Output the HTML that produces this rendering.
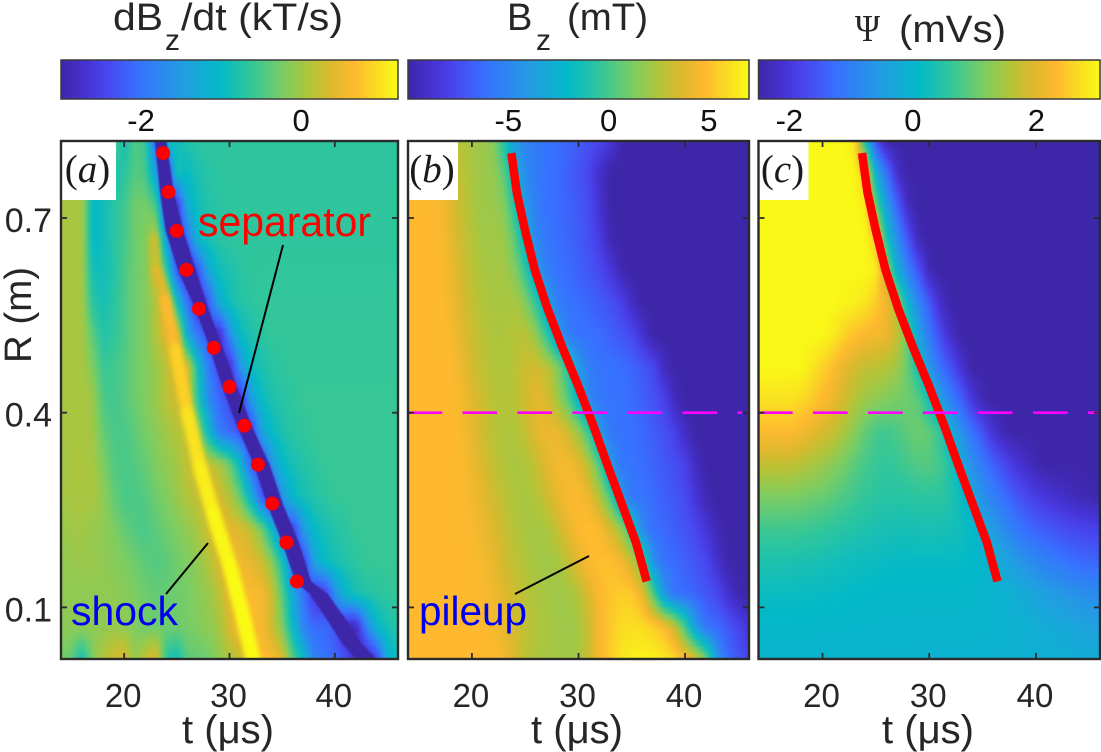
<!DOCTYPE html>
<html lang="en">
<head>
<meta charset="utf-8">
<title>Separator and pileup heatmaps</title>
<style>
html,body{margin:0;padding:0;background:#fff;}
svg{display:block;font-family:"Liberation Sans",Arial,sans-serif;}
</style>
</head>
<body>
<svg id="chart" xmlns="http://www.w3.org/2000/svg" width="1101" height="752" viewBox="0 0 1101 752">
  <defs>
    <filter id="soft" x="-5%" y="-5%" width="110%" height="110%" color-interpolation-filters="sRGB"><feGaussianBlur stdDeviation="1.6"/></filter>
    <filter id="softBand" x="-20%" y="-5%" width="140%" height="110%" color-interpolation-filters="sRGB"><feGaussianBlur stdDeviation="0.9"/></filter>
    <filter id="softRidge" x="-20%" y="-5%" width="140%" height="110%" color-interpolation-filters="sRGB"><feGaussianBlur stdDeviation="2.4"/></filter>
  </defs>
  <rect width="1101" height="752" fill="#fff"/>
  <g id="layers"></g>

  <g fill="#262626" font-size="38">
    <text x="113" y="30" textLength="50" lengthAdjust="spacingAndGlyphs">dB</text>
    <text x="165" y="50" font-size="30">z</text>
    <text x="181" y="30" textLength="162" lengthAdjust="spacingAndGlyphs">/dt (kT/s)</text>
    <text x="507" y="30">B</text>
    <text x="536" y="50" font-size="30">z</text>
    <text x="567" y="30" textLength="81" lengthAdjust="spacingAndGlyphs">(mT)</text>
    <text x="855" y="41" font-family="'Liberation Serif',serif" textLength="25" lengthAdjust="spacingAndGlyphs">Ψ</text>
    <text x="899" y="42" textLength="107" lengthAdjust="spacingAndGlyphs">(mVs)</text>
  </g>

  <g fill="#262626" font-size="40">
    <text x="182" y="743" textLength="92" lengthAdjust="spacingAndGlyphs">t (μs)</text>
    <text x="531" y="743" textLength="92" lengthAdjust="spacingAndGlyphs">t (μs)</text>
    <text x="882" y="743" textLength="92" lengthAdjust="spacingAndGlyphs">t (μs)</text>
    <text transform="translate(31,363) rotate(-90)" font-size="38" textLength="96" lengthAdjust="spacingAndGlyphs">R (m)</text>
  </g>
</svg>

<script>
// ---- axis categories ----
var tNodes = [14,15,16,17,18,19,20,21,22,23,24,25,26,27,28,29,30,31,32,33,34,35,36,37,38,39,40,41,42,43,44,45,46];
var rNodes = [0.82,0.77,0.72,0.67,0.62,0.57,0.52,0.47,0.42,0.37,0.32,0.27,0.22,0.17,0.12,0.07,0.02];
var tTicks = [20,30,40];
var rTicks = [0.1,0.4,0.7];
var rTickLabels = ["0.1","0.4","0.7"];
var climA = [-3,1.21];
var climB = [-10,7];
var climC = [-2.5,3.03];
var cbarTicksA = [-2,0];
var cbarTicksB = [-5,0,5];
var cbarTicksC = [-2,0,2];

// ---- dBz/dt (kT/s), one row per rNodes entry, one value per tNodes entry ----
var dBdtValues = [
[-.4,-.4,-.4,-.4,-.4,-.4,-.9,-.45,-.6,-2.2,-.8,-.95,-.75,-.68,-.66,-.66,-.66,-.66,-.66,-.66,-.66,-.66,-.66,-.66,-.66,-.66,-.66,-.66,-.66,-.66,-.66,-.66,-.66],
[.05,.05,.05,-1,-.95,-.8,-.7,-.45,-.5,-1.4,-2.8,-.8,-1,-.8,-.72,-.68,-.66,-.66,-.66,-.66,-.66,-.66,-.66,-.66,-.66,-.66,-.66,-.66,-.66,-.66,-.66,-.66,-.66],
[.05,.05,.05,-1.05,-.9,-.7,-.55,-.3,-.25,-.5,-2.5,-2.7,-1.2,-.9,-.75,-.7,-.65,-.65,-.65,-.65,-.65,-.65,-.65,-.65,-.65,-.65,-.65,-.65,-.65,-.65,-.65,-.65,-.65],
[.05,.05,.05,-1.05,-.9,-.7,-.55,-.3,-.2,.2,-1.5,-2.8,-2,-1,-.8,-.7,-.66,-.65,-.65,-.65,-.65,-.65,-.65,-.65,-.65,-.65,-.65,-.65,-.65,-.65,-.65,-.65,-.65],
[.05,.05,.03,-.9,-.9,-.75,-.5,-.3,-.2,.35,-.6,-2.3,-3,-2.3,-1.3,-.9,-.8,-.7,-.64,-.64,-.64,-.64,-.64,-.64,-.64,-.64,-.64,-.64,-.64,-.64,-.64,-.64,-.64],
[.05,.05,.03,-.7,-.85,-.7,-.5,-.3,-.2,.1,.6,-.9,-2,-2.8,-2.3,-1.2,-.9,-.75,-.68,-.63,-.63,-.63,-.63,-.63,-.63,-.63,-.63,-.63,-.63,-.63,-.63,-.63,-.63],
[.02,.05,.05,-.4,-.75,-.65,-.5,-.3,-.2,.1,.4,.5,-1.3,-2,-2.3,-2.9,-1.7,-1,-.8,-.7,-.62,-.62,-.62,-.62,-.62,-.62,-.62,-.62,-.62,-.62,-.62,-.62,-.62],
[0,.05,.05,-.2,-.6,-.55,-.45,-.3,-.2,-.05,.15,.5,.4,-.9,-1.9,-2.4,-2.8,-1.6,-1,-.8,-.72,-.66,-.62,-.62,-.62,-.62,-.62,-.62,-.62,-.62,-.62,-.62,-.62],
[0,.05,.05,0,-.5,-.55,-.45,-.3,-.2,-.05,.15,.3,.3,-.7,-1.7,-2.1,-2.4,-2.8,-1.5,-1,-.8,-.72,-.66,-.6,-.6,-.6,-.6,-.6,-.6,-.6,-.6,-.6,-.6],
[0,.05,.05,.02,-.35,-.5,-.5,-.4,-.25,-.15,0,.1,.25,-.05,-1,-1.9,-2.1,-2.3,-2.7,-1.4,-1,-.8,-.7,-.65,-.6,-.6,-.6,-.6,-.6,-.6,-.6,-.6,-.6],
[0,.08,.05,.05,-.2,-.45,-.5,-.45,-.35,-.2,-.1,0,.2,.4,.25,.1,-.3,-1,-2.1,-2.6,-1.6,-1.05,-.85,-.75,-.68,-.6,-.6,-.6,-.6,-.6,-.6,-.6,-.6],
[0,.05,.05,.05,-.1,-.35,-.5,-.5,-.45,-.3,-.2,-.05,.1,.2,.4,.35,.1,-.3,-1.1,-2.2,-2.6,-1.6,-1.05,-.85,-.75,-.68,-.6,-.6,-.6,-.6,-.6,-.6,-.6],
[-.05,0,0,-.05,-.1,-.2,-.35,-.45,-.5,-.4,-.3,-.2,-.1,.05,.3,.45,.45,.4,.2,-.2,-1,-2,-2.6,-1.5,-1,-.85,-.75,-.68,-.6,-.6,-.6,-.6,-.6],
[-.1,-.05,-.05,-.05,-.1,-.15,-.2,-.3,-.4,-.45,-.4,-.3,-.2,-.1,.1,.35,.55,.55,.45,.3,-.1,-.8,-2,-2.6,-1.4,-1,-.85,-.75,-.68,-.6,-.6,-.6,-.6],
[-.1,-.1,-.1,-.1,-.1,-.1,-.15,-.2,-.3,-.35,-.35,-.3,-.25,-.15,-.05,.15,.45,.6,.65,.6,.3,-.4,-1.3,-2,-2.6,-2.7,-1.7,-1.05,-.85,-.75,-.7,-.65,-.6],
[-.15,-.1,-.1,-.1,-.1,-.05,-.1,-.2,-.3,-.3,-.3,-.3,-.25,-.2,-.1,0,.35,.6,.65,.6,.3,-.2,-1,-1.8,-2.1,-2.1,-2.3,-2.9,-2.9,-1.8,-1.05,-.85,-.7],
[-.2,-.4,-.9,-.2,.1,.3,.4,-.1,.2,.5,-.7,-.9,-.4,-.35,-.3,-.1,.05,.2,.6,.7,.65,.4,-.4,-1,-1.8,-2,-2.1,-2.3,-2.8,-2.9,-2.5,-1.2,-.85]
];

// ---- Bz (mT) ----
var bzValues = [
[4.8,4.8,4.8,4.3,3.3,2.6,2.2,2,1.6,-1,-4,-5,-5.6,-6,-6.2,-6.5,-6.9,-7.3,-7.7,-8.5,-9.8,-10,-10,-10,-10,-10,-10,-10,-10,-10,-10,-10,-10],
[4.8,4.8,4.8,4.5,3.6,2.8,2.3,2,1.8,.5,-2.5,-4.8,-5.6,-6,-6.3,-6.7,-7.2,-7.8,-9,-10,-10,-10,-10,-10,-10,-10,-10,-10,-10,-10,-10,-10,-10],
[4.8,4.8,4.8,4.6,3.8,3,2.4,2,2,1.5,-1,-4,-5.5,-6,-6.3,-6.6,-7,-7.5,-8.8,-10,-10,-10,-10,-10,-10,-10,-10,-10,-10,-10,-10,-10,-10],
[4.8,4.8,4.8,4.7,4,3.2,2.6,2.1,2.1,2,.5,-2.5,-5,-5.9,-6.2,-6.5,-6.9,-7.4,-8.3,-9.7,-10,-10,-10,-10,-10,-10,-10,-10,-10,-10,-10,-10,-10],
[4.8,4.8,4.8,4.8,4.2,3.4,2.8,2.3,2.2,2.2,1.5,-.5,-3.5,-5.5,-6,-6.3,-6.7,-7.1,-7.6,-8.5,-9.7,-10,-10,-10,-10,-10,-10,-10,-10,-10,-10,-10,-10],
[4.8,4.8,4.8,4.8,4.4,3.6,3,2.5,2.3,2.3,2.4,1.5,-.5,-3.5,-5.5,-6,-6.2,-6.5,-6.9,-7.3,-7.9,-9.2,-10,-10,-10,-10,-10,-10,-10,-10,-10,-10,-10],
[4.8,4.8,4.8,4.8,4.6,3.9,3.2,2.7,2.4,2.4,2.6,2.8,1.8,-.5,-3.5,-5.5,-6,-6.1,-6.3,-6.7,-7.1,-7.6,-8.8,-10,-10,-10,-10,-10,-10,-10,-10,-10,-10],
[4.8,4.8,4.8,4.8,4.8,4.2,3.4,2.9,2.5,2.4,2.7,3.2,3.4,2.9,1.5,-1,-4,-5.5,-6,-6,-6.2,-6.5,-7,-7.6,-9.3,-10,-10,-10,-10,-10,-10,-10,-10],
[4.8,4.8,4.8,4.8,4.8,4.5,3.8,3.2,2.7,2.5,2.7,3.3,3.9,3.6,2.2,.5,-2.5,-5,-5.8,-6,-6,-6.3,-6.7,-7.2,-7.8,-9.4,-10,-10,-10,-10,-10,-10,-10],
[4.8,4.8,4.8,4.8,4.8,4.6,4,3.3,2.7,2.4,2.5,3,3.8,4.2,4.2,3.3,2,-.5,-4,-5.8,-6,-6.1,-6.4,-6.8,-7.3,-7.9,-9.2,-10,-10,-10,-10,-10,-10],
[4.8,4.8,4.8,4.8,4.8,4.7,4.2,3.6,3,2.5,2.3,2.4,3,3.8,4.4,4.5,4,2.6,0,-4,-5.8,-6,-6.2,-6.6,-7,-7.4,-7.9,-9.3,-10,-10,-10,-10,-10],
[4.8,4.8,4.8,4.8,4.8,4.8,4.4,3.9,3.3,2.8,2.4,2.3,2.5,3.2,4,4.6,4.7,4.2,2.6,0,-4,-5.8,-6,-6.3,-6.7,-7.1,-7.5,-8.6,-9.7,-10,-10,-10,-10],
[4.8,4.8,4.8,4.8,4.8,4.8,4.6,4.2,3.7,3.1,2.6,2.3,2.2,2.3,3,4,4.7,5,4.7,3.6,2,-1,-5,-6.1,-6.4,-6.8,-7.2,-7.7,-8.6,-9.6,-10,-10,-10],
[4.8,4.8,4.8,4.8,4.8,4.8,4.7,4.5,4,3.4,2.9,2.5,2.2,2.1,2.2,2.9,3.9,4.7,5,5,4.5,3.2,.5,-4.5,-6,-6.3,-6.7,-7.2,-7.7,-8.9,-9.9,-10,-10],
[4.8,4.8,4.8,4.8,4.8,4.8,4.8,4.6,4.3,3.8,3.2,2.7,2.4,2.2,2.1,2.1,2.6,3.7,4.7,5.2,5.5,5.4,4.2,.5,-4,-6,-6.2,-6.6,-7.1,-7.6,-8.8,-9.8,-10],
[4.8,4.8,4.8,4.8,4.8,4.8,4.8,4.8,4.5,4.1,3.4,2.9,2.5,2.3,2.1,2,2.2,3.2,4.5,5.3,5.9,6,6,5.6,4.8,3.2,0,-4,-6,-6.4,-7,-7.7,-8.8],
[4.8,4.8,4.8,4.8,4.8,4.8,4.8,4.8,4.8,4.4,3.6,2.8,2.4,2.3,2.2,2.1,2.2,3.2,4.6,5.4,6.3,6.6,6.7,6.7,6.5,5.9,4.9,3.6,1,-4,-6.2,-7.2,-7.7]
];

// ---- Psi (mVs) ----
var psiValues = [
[3,3,3,3,3,3,3,3,3,2.8,.2,-1.7,-2.5,-2.5,-2.5,-2.5,-2.5,-2.5,-2.5,-2.5,-2.5,-2.5,-2.5,-2.5,-2.5,-2.5,-2.5,-2.5,-2.5,-2.5,-2.5,-2.5,-2.5],
[3,3,3,3,3,3,3,3,3,3,2.4,-.2,-1.2,-2.2,-2.5,-2.5,-2.5,-2.5,-2.5,-2.5,-2.5,-2.5,-2.5,-2.5,-2.5,-2.5,-2.5,-2.5,-2.5,-2.5,-2.5,-2.5,-2.5],
[3,3,3,3,3,3,3,3,3,3,2.9,1,-.5,-1.4,-2.3,-2.5,-2.5,-2.5,-2.5,-2.5,-2.5,-2.5,-2.5,-2.5,-2.5,-2.5,-2.5,-2.5,-2.5,-2.5,-2.5,-2.5,-2.5],
[3,3,3,3,3,3,3,3,3,3,3,2.5,.3,-.8,-1.6,-2.4,-2.5,-2.5,-2.5,-2.5,-2.5,-2.5,-2.5,-2.5,-2.5,-2.5,-2.5,-2.5,-2.5,-2.5,-2.5,-2.5,-2.5],
[3,3,3,3,3,3,3,3,3,3,3,2.9,1.5,-.2,-1,-1.6,-2.4,-2.5,-2.5,-2.5,-2.5,-2.5,-2.5,-2.5,-2.5,-2.5,-2.5,-2.5,-2.5,-2.5,-2.5,-2.5,-2.5],
[3,3,3,3,3,3,3,3,2.95,2.9,2.8,2.5,2.2,1.4,-.1,-.9,-1.5,-2.2,-2.5,-2.5,-2.5,-2.5,-2.5,-2.5,-2.5,-2.5,-2.5,-2.5,-2.5,-2.5,-2.5,-2.5,-2.5],
[3,3,3,3,3,3,3,2.85,2.6,2.4,2.25,2.2,2.1,1.8,.9,-.4,-1.1,-1.7,-2.2,-2.5,-2.5,-2.5,-2.5,-2.5,-2.5,-2.5,-2.5,-2.5,-2.5,-2.5,-2.5,-2.5,-2.5],
[3,3,3,3,3,2.8,2.6,2.35,2.05,1.85,1.7,1.65,1.6,1.4,1,.3,-.6,-1.2,-1.6,-2.1,-2.5,-2.5,-2.5,-2.5,-2.5,-2.5,-2.5,-2.5,-2.5,-2.5,-2.5,-2.5,-2.5],
[2.75,2.75,2.75,2.75,2.65,2.5,2.3,2.1,1.85,1.6,1.4,1.3,1.2,1.1,1.05,.9,.3,-.4,-1,-1.4,-2,-2.4,-2.5,-2.5,-2.5,-2.5,-2.5,-2.5,-2.5,-2.5,-2.5,-2.5,-2.5],
[2.3,2.3,2.3,2.3,2.2,2.05,1.9,1.75,1.5,1.25,.95,.75,.7,.8,.95,1.05,.95,.6,-.1,-.7,-1.2,-1.6,-2.1,-2.4,-2.5,-2.5,-2.5,-2.5,-2.5,-2.5,-2.5,-2.5,-2.5],
[1.7,1.7,1.7,1.7,1.6,1.5,1.4,1.25,1.1,.9,.75,.65,.6,.65,.75,.85,.85,.75,.4,-.2,-.7,-1.1,-1.4,-1.7,-2,-2.2,-2.4,-2.5,-2.5,-2.5,-2.5,-2.5,-2.5],
[1.15,1.15,1.15,1.15,1.1,1.05,1,.9,.8,.7,.6,.55,.5,.5,.5,.55,.55,.55,.45,.2,-.3,-.7,-1,-1.25,-1.5,-1.7,-1.9,-2,-2.15,-2.25,-2.35,-2.4,-2.5],
[.7,.7,.7,.7,.68,.65,.6,.55,.5,.45,.4,.35,.33,.32,.32,.33,.33,.33,.3,.25,.1,-.2,-.5,-.8,-1.05,-1.25,-1.4,-1.5,-1.6,-1.7,-1.75,-1.8,-1.85],
[.38,.38,.38,.38,.36,.34,.32,.28,.25,.22,.2,.18,.15,.14,.14,.14,.14,.14,.14,.13,.1,.05,-.1,-.3,-.5,-.7,-.85,-1,-1.1,-1.2,-1.3,-1.35,-1.4],
[.18,.18,.18,.18,.17,.16,.15,.14,.12,.1,.09,.08,.07,.06,.05,.05,.05,.05,.05,.05,.03,0,-.03,-.08,-.15,-.25,-.35,-.45,-.55,-.62,-.7,-.75,-.8],
[.05,.05,.05,.05,.05,.04,.04,.03,.03,.02,.02,.01,.01,.01,0,0,0,0,0,0,-.01,-.02,-.03,-.05,-.08,-.1,-.15,-.2,-.25,-.3,-.35,-.4,-.45],
[-.02,-.02,-.02,-.02,-.02,-.03,-.03,-.03,-.03,-.04,-.04,-.04,-.05,-.05,-.05,-.05,-.06,-.06,-.06,-.06,-.07,-.07,-.08,-.09,-.1,-.11,-.12,-.13,-.14,-.15,-.16,-.18,-.2]
];

// ---- separator (red dots in a, red line in b and c) ----
var separatorR = [0.8,0.74,0.68,0.62,0.56,0.5,0.44,0.38,0.32,0.26,0.2,0.14];
var separatorT = [23.7,24.2,25,25.9,27.1,28.5,30,31.4,32.7,34.05,35.4,36.4];

// ---- dark current-sheet band in panel a (centre and width in microseconds) ----
var bandR = [0.82,0.74,0.68,0.62,0.56,0.5,0.44,0.38,0.32,0.26,0.2,0.14,0.12,0.085,0.045,0.02];
var bandT = [23.45,24.05,24.78,25.95,27.38,28.74,30,31.4,33.07,34.3,35.8,37,38.5,40,41.6,43];
var bandW = [1.1,1.3,1.7,1.7,1.25,1.25,1.4,1.4,1.5,1.5,1.6,1.5,1.7,1.8,1.8,1.9];

// ---- shock ridge in panel a ----
var shockR = [0.67,0.62,0.574,0.497,0.4,0.316,0.245,0.162,0.085,0.02];
var shockT = [22.8,23.1,23.9,24.85,26,27.2,28.45,30.07,31.3,32.25];
var shockAmp = [0.15,0.3,0.5,0.75,0.95,1.05,1.15,1.21,1.21,1.21];

// ---- dashed cut at R = 0.4 ----
var cutR = [0.4];

// ---- colour map (position, r, g, b) ----
var cmapStops = [
[0,62,38,168],[.08,70,52,214],[.14,72,72,240],[.23,55,114,255],[.37,32,160,224],[.47,3,185,200],
[.56,48,198,156],[.66,124,205,98],[.74,180,196,56],[.8,220,184,45],[.87,254,185,47],[.94,250,221,34],[1,249,251,21]
];

var svgNS = "http://www.w3.org/2000/svg";
var layers = document.getElementById("layers");
var defs = document.querySelector("#chart defs");
var plotTop = 141, plotBottom = 659, cbarTop = 60, cbarBottom = 99;

var panels = [
  {key:"a", x0:61, x1:398, grid:dBdtValues, clim:climA, ticks:cbarTicksA, tickLabels:["-2","0"], label:"a", boxW:55},
  {key:"b", x0:408, x1:749, grid:bzValues, clim:climB, ticks:cbarTicksB, tickLabels:["-5","0","5"], label:"b", boxW:50},
  {key:"c", x0:758.5, x1:1100, grid:psiValues, clim:climC, ticks:cbarTicksC, tickLabels:["-2","0","2"], label:"c", boxW:50}
];

function xScale(p, t){ return p.x0 + (t - 14) * (p.x1 - p.x0) / 32; }
function yScale(r){ return 218 + (0.7 - r) * 649; }
function cbarScale(p, v){ return p.x0 + (v - p.clim[0]) * (p.x1 - p.x0) / (p.clim[1] - p.clim[0]); }
function colorAt(n){
  n = Math.max(0, Math.min(1, n));
  for (var i = 1; i < cmapStops.length; i++) {
    if (n <= cmapStops[i][0]) {
      var a = cmapStops[i-1], b = cmapStops[i], f = (n - a[0]) / (b[0] - a[0]);
      return "rgb(" + Math.round(a[1]+(b[1]-a[1])*f) + "," + Math.round(a[2]+(b[2]-a[2])*f) + "," + Math.round(a[3]+(b[3]-a[3])*f) + ")";
    }
  }
  return "rgb(249,251,21)";
}
function valueColor(p, v){ return colorAt((v - p.clim[0]) / (p.clim[1] - p.clim[0])); }
function mk(tag, attrs, parent){
  var el = document.createElementNS(svgNS, tag);
  for (var k in attrs) el.setAttribute(k, attrs[k]);
  if (parent) parent.appendChild(el);
  return el;
}

function drawHeat(p, parent){
  var subX = 3, subY = 5;
  for (var i = 0; i < rNodes.length - 1; i++) {
    var y0 = yScale(rNodes[i]), y1 = yScale(rNodes[i+1]);
    for (var j = 0; j < tNodes.length - 1; j++) {
      var x0 = xScale(p, tNodes[j]), x1 = xScale(p, tNodes[j+1]);
      var v00 = p.grid[i][j], v01 = p.grid[i][j+1], v10 = p.grid[i+1][j], v11 = p.grid[i+1][j+1];
      for (var a = 0; a < subY; a++) {
        var fy = (a + .5) / subY;
        for (var b = 0; b < subX; b++) {
          var fx = (b + .5) / subX;
          var v = (v00*(1-fx) + v01*fx)*(1-fy) + (v10*(1-fx) + v11*fx)*fy;
          var cx0 = x0 + (x1-x0)*b/subX, cy0 = y0 + (y1-y0)*a/subY;
          var cw = (x1-x0)/subX + .6, ch = (y1-y0)/subY + .6;
          if (j === 0 && b === 0) { cx0 -= 8; cw += 8; }
          if (j === tNodes.length-2 && b === subX-1) cw += 8;
          if (i === 0 && a === 0) { cy0 -= 8; ch += 8; }
          if (i === rNodes.length-2 && a === subY-1) ch += 8;
          var cell = mk("rect", {x:cx0.toFixed(2), y:cy0.toFixed(2), width:cw.toFixed(2), height:ch.toFixed(2), fill:valueColor(p, v)}, parent);
          
          
        }
      }
    }
  }
}

panels.forEach(function(p){
  var w = p.x1 - p.x0;

  // colorbar
  var grad = mk("linearGradient", {id:"cbar-grad-" + p.key, x1:"0", x2:"1", y1:"0", y2:"0"}, defs);
  cmapStops.forEach(function(s){
    mk("stop", {offset:s[0], "stop-color":colorAt(s[0])}, grad);
  });
  var bar = mk("rect", {x:p.x0, y:cbarTop, width:w, height:cbarBottom-cbarTop, fill:"url(#cbar-grad-" + p.key + ")", stroke:"#3a3a3a", "stroke-width":1.5}, layers);
  
  
  p.ticks.forEach(function(v, i){
    var lab = mk("text", {x:cbarScale(p, v), y:131, "text-anchor":"middle", "font-size":31, fill:"#111"}, layers);
    lab.textContent = p.tickLabels[i];
    
    
  });

  // heatmap, clipped to the plot box
  var clip = mk("clipPath", {id:"clip-" + p.key}, defs);
  mk("rect", {x:p.x0, y:plotTop, width:w, height:plotBottom-plotTop}, clip);
  var panel = mk("g", {"clip-path":"url(#clip-" + p.key + ")"}, layers);
  
  
  var heat = mk("g", {filter:"url(#soft)"}, panel);
  
  
  drawHeat(p, heat);

  if (p.key === "a") {
    // shock ridge
    var ridge = mk("g", {filter:"url(#softRidge)"}, panel);
    
    
    for (var s = 0; s < shockR.length - 1; s++) {
      var amp = (shockAmp[s] + shockAmp[s+1]) / 2;
      var seg = mk("line", {x1:xScale(p, shockT[s]), y1:yScale(shockR[s]), x2:xScale(p, shockT[s+1]), y2:yScale(shockR[s+1]), stroke:valueColor(p, amp), "stroke-width":6 + 9*amp/1.21, "stroke-linecap":"round"}, ridge);
      
      
    }
    // dark band following the current sheet
    var left = [], right = [];
    bandR.forEach(function(r, i){
      left.push(xScale(p, bandT[i] - bandW[i]/2).toFixed(1) + "," + yScale(r).toFixed(1));
      right.unshift(xScale(p, bandT[i] + bandW[i]/2).toFixed(1) + "," + yScale(r).toFixed(1));
    });
    var band = mk("polygon", {points:left.concat(right).join(" "), fill:"rgb(62,38,168)", filter:"url(#softBand)"}, panel);
    
    
  } else {
    // separator line
    var pts = separatorR.map(function(r, i){ return xScale(p, separatorT[i]).toFixed(1) + "," + yScale(r).toFixed(1); });
    var sep = mk("polyline", {points:pts.join(" "), fill:"none", stroke:"#ff0000", "stroke-width":8.5}, panel);
    
    
    // dashed magenta cut
    var cut = mk("line", {x1:p.x0 - 0.5, x2:p.key === "b" ? 742 : p.x1, y1:yScale(cutR[0]), y2:yScale(cutR[0]), stroke:"#ff00ff", "stroke-width":2.6, "stroke-dasharray":"34.7 20.3"}, panel);
    
    
  }

  // white label patch
  var patch = mk("rect", {x:p.x0, y:plotTop, width:p.boxW, height:59, fill:"#fff"}, layers);
  
  
  var plabel = mk("text", {x:p.x0 + p.boxW/2 - 1, y:182, "text-anchor":"middle", "font-family":"'Liberation Serif',serif", "font-size":39, fill:"#1a1a1a"}, layers);
  
  
  plabel.appendChild(document.createTextNode("("));
  var letter = mk("tspan", {"font-style":"italic"}, plabel);
  letter.textContent = p.label;
  plabel.appendChild(document.createTextNode(")"));

  // frame
  var frame = mk("rect", {x:p.x0, y:plotTop, width:w, height:plotBottom-plotTop, fill:"none", stroke:"#2b2b2b", "stroke-width":2.4}, layers);
  
  

  // x ticks
  tTicks.forEach(function(t){
    var x = xScale(p, t);
    var tickB = mk("line", {x1:x, x2:x, y1:plotBottom, y2:plotBottom-6, stroke:"#2b2b2b", "stroke-width":1.8}, layers);
    
    
    var tickT = mk("line", {x1:x, x2:x, y1:plotTop, y2:plotTop+6, stroke:"#2b2b2b", "stroke-width":1.8}, layers);
    
    
    var lab = mk("text", {x:x - 1, y:707, "text-anchor":"middle", "font-size":33, fill:"#262626"}, layers);
    lab.textContent = String(t);
    
    
  });

  // y ticks
  rTicks.forEach(function(r, i){
    var y = yScale(r);
    var tickL = mk("line", {x1:p.x0, x2:p.x0+6, y1:y, y2:y, stroke:"#2b2b2b", "stroke-width":1.8}, layers);
    
    
    var tickR = mk("line", {x1:p.x1-6, x2:p.x1, y1:y, y2:y, stroke:"#2b2b2b", "stroke-width":1.8}, layers);
    
    
    if (p.key === "a") {
      var lab = mk("text", {x:52, y:y + 14, "text-anchor":"end", "font-size":34, fill:"#262626"}, layers);
      lab.textContent = rTickLabels[i];
      
      
    }
  });

  if (p.key === "a") {
    // separator markers
    separatorR.forEach(function(r, i){
      var dot = mk("circle", {cx:xScale(p, separatorT[i]), cy:yScale(r), r:7, fill:"#ff0000"}, layers);
      
      
    });
  }
});

// annotations
var sepText = mk("text", {x:198, y:236, "font-size":42, fill:"#ff0000", textLength:173, lengthAdjust:"spacingAndGlyphs"}, layers);
sepText.textContent = "separator";


var sepLead = mk("line", {x1:283, y1:245, x2:239, y2:413, stroke:"#000", "stroke-width":2}, layers);


var shockText = mk("text", {x:71, y:625, "font-size":41, fill:"#0000f0", textLength:107, lengthAdjust:"spacingAndGlyphs"}, layers);
shockText.textContent = "shock";


var shockLead = mk("line", {x1:166, y1:594, x2:208, y2:543, stroke:"#000", "stroke-width":2}, layers);


var pileText = mk("text", {x:419, y:625, "font-size":41, fill:"#0000f0", textLength:108, lengthAdjust:"spacingAndGlyphs"}, layers);
pileText.textContent = "pileup";


var pileLead = mk("line", {x1:515, y1:594, x2:589, y2:556, stroke:"#000", "stroke-width":2}, layers);


</script>
</body>
</html>
